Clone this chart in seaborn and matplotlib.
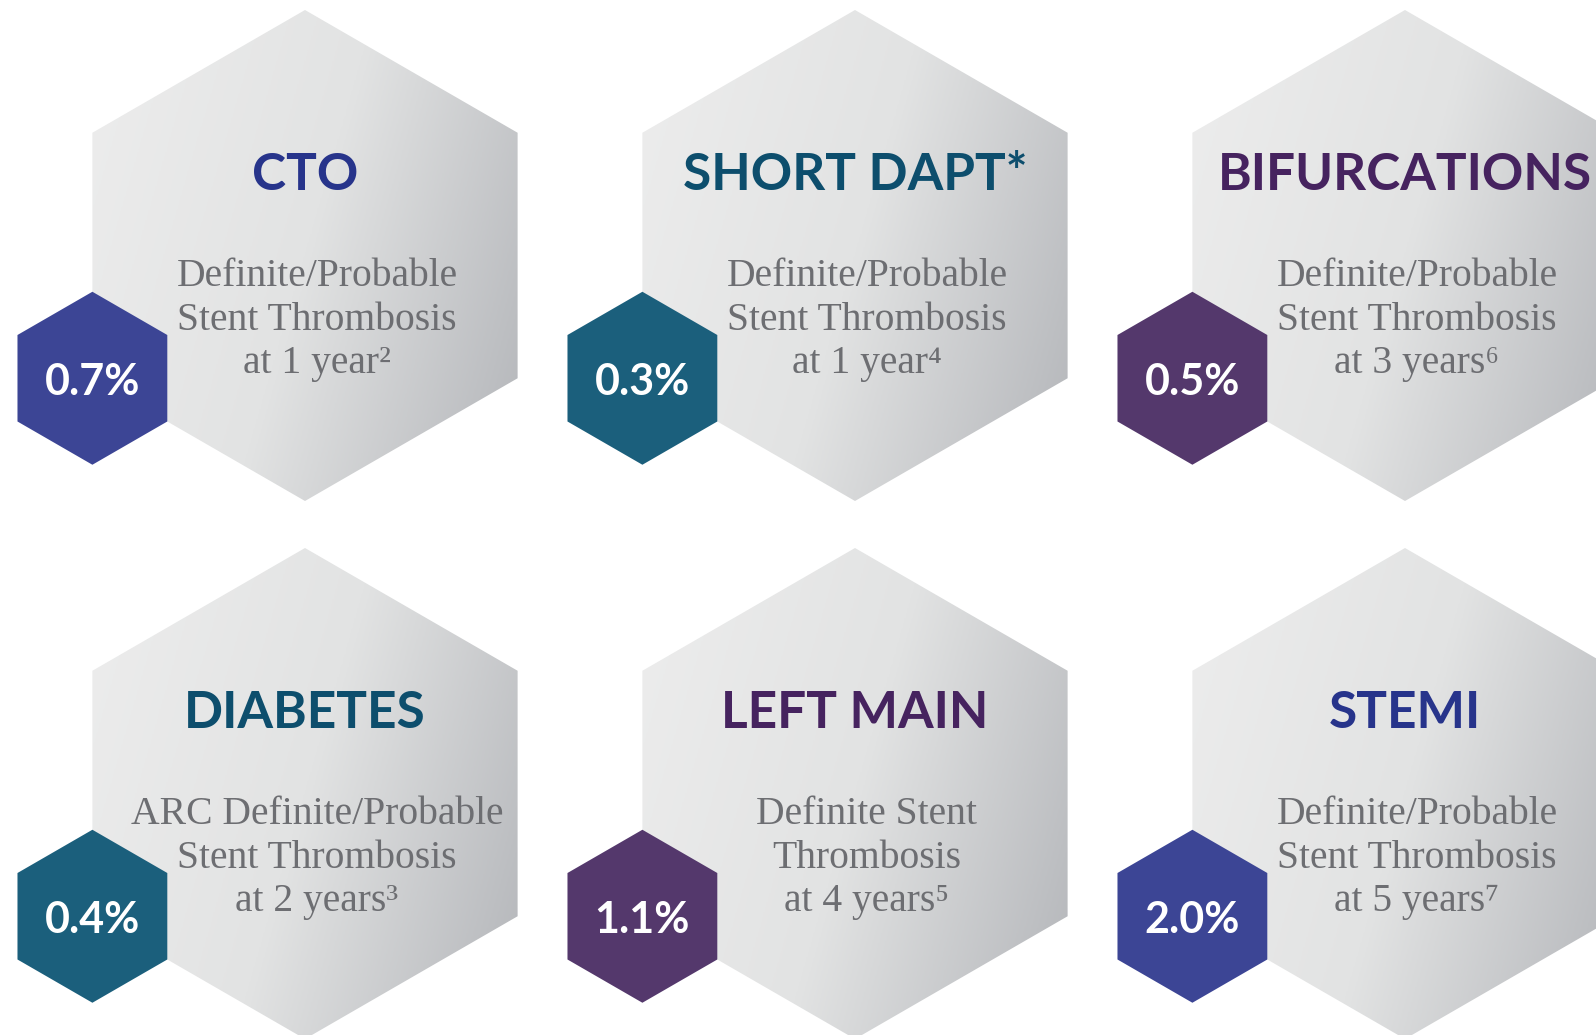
import numpy as np
import matplotlib
matplotlib.use("Agg")
import matplotlib.pyplot as plt
from matplotlib.patches import Polygon
import seaborn as sns

# ---- data ----
titles = ["CTO", "SHORT DAPT*", "BIFURCATIONS", "DIABETES", "LEFT MAIN", "STEMI"]
values = ["0.7%", "0.3%", "0.5%", "0.4%", "1.1%", "2.0%"]
desc_lines = [
    ["Definite/Probable", "Stent Thrombosis", "at 1 year\u00b2"],
    ["Definite/Probable", "Stent Thrombosis", "at 1 year\u2074"],
    ["Definite/Probable", "Stent Thrombosis", "at 3 years\u2076"],
    ["ARC Definite/Probable", "Stent Thrombosis", "at 2 years\u00b3"],
    ["Definite Stent", "Thrombosis", "at 4 years\u2075"],
    ["Definite/Probable", "Stent Thrombosis", "at 5 years\u2077"],
]
badge_colors = ["#3c4595", "#1b5f7c", "#54386c", "#1b5f7c", "#54386c", "#3c4595"]
title_colors = ["#27348b", "#0d4e6d", "#46235f", "#0d4e6d", "#46235f", "#27348b"]

sns.set_theme(style="white")
plt.rcParams['font.family'] = ['Lato', 'DejaVu Sans']

W, H = 1596, 1035
fig = plt.figure(figsize=(W / 100, H / 100), dpi=100)
ax = fig.add_axes([0, 0, 1, 1])
ax.set_xlim(0, W)
ax.set_ylim(H, 0)
ax.axis("off")

cmap = sns.blend_palette(["#ededed", "#e2e3e3", "#b3b5b9"], as_cmap=True)

R = 245.5
r = 86.5
x0, dx = 305, 550
y0, dy = 255.5, 538


def hex_pts(cx, cy, rad):
    ang = np.deg2rad([90, 150, 210, 270, 330, 30])
    return np.column_stack([cx + rad * np.cos(ang), cy - rad * np.sin(ang)])


gy, gx = np.mgrid[0:1:300j, 0:1:300j]
grad = 0.75 * gx + 0.25 * gy

serif = ['Liberation Serif', 'DejaVu Serif']

for i, t in enumerate(titles):
    col, row = i % 3, i // 3
    cx, cy = x0 + dx * col, y0 + dy * row
    hw = R * np.sqrt(3) / 2
    poly = Polygon(hex_pts(cx, cy, R), closed=True, facecolor="none", edgecolor="none", zorder=1)
    ax.add_patch(poly)
    im = ax.imshow(grad, cmap=cmap, extent=(cx - hw, cx + hw, cy + R, cy - R),
                   origin="upper", aspect="auto", zorder=1, interpolation="bilinear")
    im.set_clip_path(poly)

    # title
    ax.text(cx, cy - 66, t, ha="center", va="baseline", fontsize=37, fontweight="bold",
            color=title_colors[i], zorder=2)
    # description
    for k, line in enumerate(desc_lines[i]):
        ax.text(cx + 12, cy + 30.5 + 43.5 * k, line, ha="center", va="baseline",
                fontsize=28.5, color="#6d6e72", family=serif, zorder=2)

    # badge
    sx, sy = cx - hw, cy + R / 2
    ax.add_patch(Polygon(hex_pts(sx, sy, r), closed=True, facecolor=badge_colors[i],
                         edgecolor="none", zorder=3))
    ax.text(sx, sy + 16.5, values[i], ha="center", va="baseline", fontsize=31,
            fontweight="bold", color="white", zorder=4)

ax.set_xlim(0, W)
ax.set_ylim(H, 0)
fig.savefig("out.png", dpi=100)
